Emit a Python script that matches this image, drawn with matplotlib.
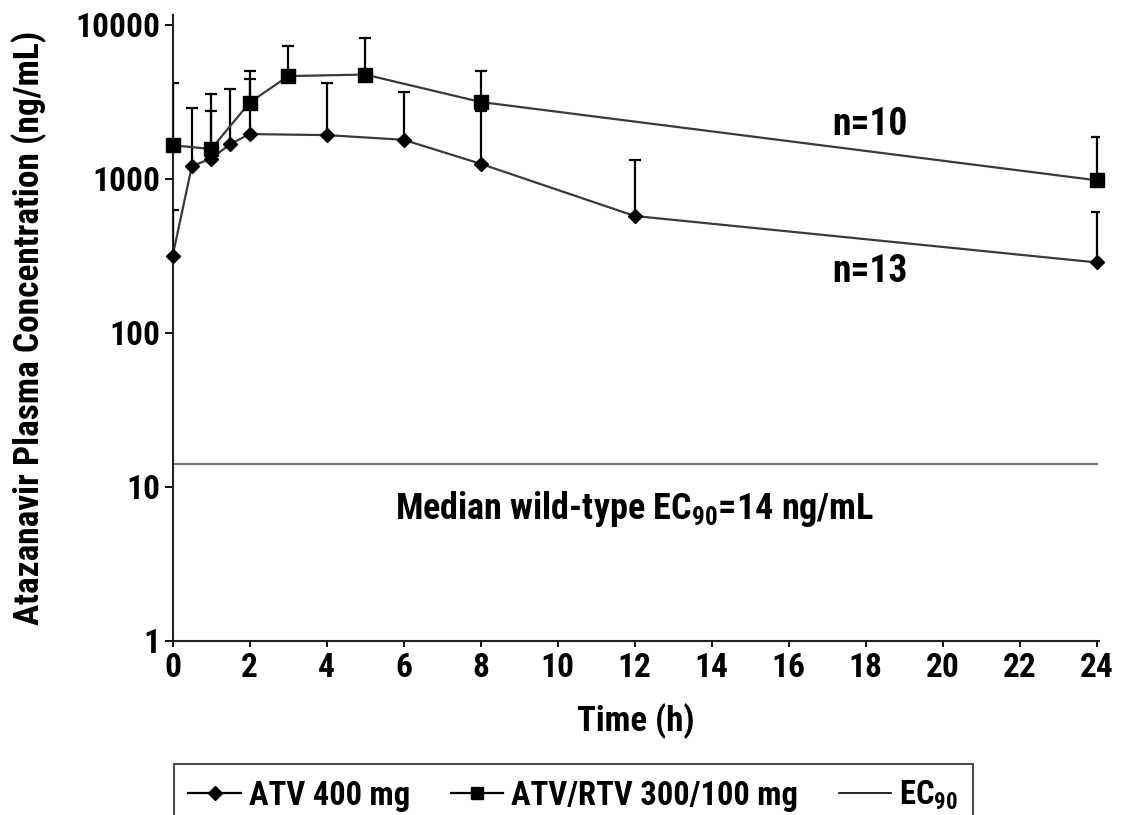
import matplotlib
matplotlib.use("Agg")
import matplotlib.pyplot as plt
import numpy as np
from matplotlib.lines import Line2D

plt.rcParams['font.family'] = ['Roboto Condensed', 'DejaVu Sans']
plt.rcParams['font.weight'] = 'bold'
plt.rcParams['mathtext.fontset'] = 'custom'
plt.rcParams['mathtext.rm'] = 'Roboto Condensed:bold'
plt.rcParams['mathtext.bf'] = 'Roboto Condensed:bold'
plt.rcParams['mathtext.it'] = 'Roboto Condensed:bold'

# ATV 400 mg (diamonds)
atv_time = [0, 0.5, 1, 1.5, 2, 4, 6, 8, 12, 24]
atv_mean = [315, 1210, 1350, 1680, 1950, 1920, 1790, 1250, 573, 286]
atv_upper = [624, 2900, 2760, 3810, 4420, 4210, 3680, 2760, 1330, 610]

# ATV/RTV 300/100 mg (squares)
rtv_time = [0, 1, 2, 3, 5, 8, 24]
rtv_mean = [1650, 1560, 3120, 4640, 4750, 3150, 977]
rtv_upper = [4210, 3570, 5000, 7240, 8200, 5000, 1860]

ec90 = 14
y_ticks = [1, 10, 100, 1000, 10000]
x_ticks = list(range(0, 25, 2))

fig = plt.figure(figsize=(11.21, 8.15), dpi=100)
ax = fig.add_axes([0.154, 0.2139, 0.826, 0.7677])

ax.set_yscale('log')
ax.set_ylim(1, 11570)
ax.set_xlim(0, 24.05)

line_col = '#3a3a3a'
ax.plot([0, 24], [ec90, ec90], color='#7a7a7a', lw=1.6, zorder=2)

atv_mean_a = np.array(atv_mean)
rtv_mean_a = np.array(rtv_mean)
ax.errorbar(atv_time, atv_mean, yerr=[np.zeros(len(atv_mean)), np.array(atv_upper) - atv_mean_a],
            fmt='none', ecolor='black', elinewidth=1.6, capsize=4, capthick=1.6, zorder=3)
ax.errorbar(rtv_time, rtv_mean, yerr=[np.zeros(len(rtv_mean)), np.array(rtv_upper) - rtv_mean_a],
            fmt='none', ecolor='black', elinewidth=1.6, capsize=4, capthick=1.6, zorder=3)
ax.plot(atv_time, atv_mean, color=line_col, lw=1.6, marker='D', markersize=7,
        markerfacecolor='black', markeredgecolor='black', zorder=4, clip_on=False)
ax.plot(rtv_time, rtv_mean, color=line_col, lw=1.6, marker='s', markersize=9.5,
        markerfacecolor='black', markeredgecolor='black', zorder=4, clip_on=False)

ax.spines['top'].set_visible(False)
ax.spines['right'].set_visible(False)
for s in ['left', 'bottom']:
    ax.spines[s].set_linewidth(1.5)
    ax.spines[s].set_color('#222222')

ax.set_yticks(y_ticks)
ax.set_yticklabels([str(v) for v in y_ticks])
ax.yaxis.set_minor_locator(matplotlib.ticker.NullLocator())
ax.set_xticks(x_ticks)
ax.set_xticklabels([str(v) for v in x_ticks])
ax.tick_params(axis='y', length=6, width=1.3, labelsize=24, pad=3)
ax.tick_params(axis='x', length=4, width=1.3, labelsize=24, pad=4)

ax.set_xlabel('Time (h)', fontsize=25, fontweight='bold', labelpad=14)
ax.set_ylabel('Atazanavir Plasma Concentration (ng/mL)', fontsize=25.5, fontweight='bold', labelpad=20)

ax.text(18.1, 2250, 'n=10', fontsize=27, fontweight='bold', ha='center', va='center')
ax.text(18.1, 250, 'n=13', fontsize=27, fontweight='bold', ha='center', va='center')
ax.text(12.0, 7.2, 'Median wild-type EC$_{90}$=14 ng/mL', fontsize=26,
        fontweight='bold', ha='center', va='center')

handles = [
    Line2D([], [], color='black', lw=1.6, marker='D', markersize=7),
    Line2D([], [], color='black', lw=1.6, marker='s', markersize=9),
    Line2D([], [], color='black', lw=1.2),
]
labels = ['ATV 400 mg', 'ATV/RTV 300/100 mg', 'EC$_{90}$']
leg = fig.legend(handles, labels, loc='upper left', bbox_to_anchor=(0.155, 0.0626),
                 borderaxespad=0, ncol=3, fontsize=23.5, frameon=True, fancybox=False,
                 edgecolor='#222222', handlelength=1.6, handletextpad=0.25,
                 columnspacing=1.25, borderpad=0.45)
leg.get_frame().set_linewidth(1.5)

fig.savefig('out.png', dpi=100)
